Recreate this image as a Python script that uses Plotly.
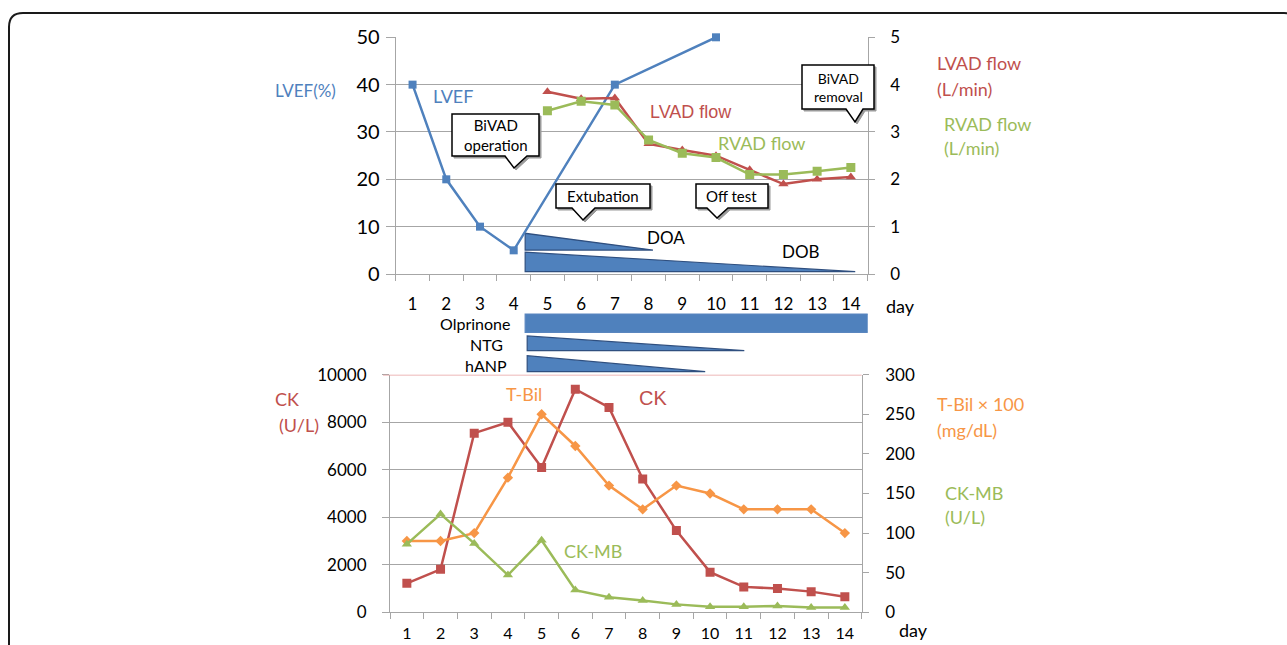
import plotly.graph_objects as go

# ---------------- data ----------------
days = list(range(1, 15))
day_labels = [str(d) for d in days]

lvef_days = [1, 2, 3, 4, 7, 10]
lvef = [40, 20, 10, 5, 40, 50]

vad_days = [5, 6, 7, 8, 9, 10, 11, 12, 13, 14]
lvad_flow = [3.85, 3.7, 3.72, 2.75, 2.62, 2.5, 2.2, 1.9, 2.0, 2.05]
rvad_flow = [3.45, 3.65, 3.57, 2.83, 2.55, 2.46, 2.1, 2.1, 2.17, 2.25]

ck = [1220, 1810, 7540, 8000, 6090, 9390, 8620, 5610, 3440, 1690, 1070, 1000, 870, 650]
tbil_x100 = [90, 90, 100, 170, 250, 210, 160, 130, 160, 150, 130, 130, 130, 100]
ck_mb = [86, 124, 87, 47, 91, 28, 19, 15, 10, 7, 7, 8, 6, 6]

# drug schedules (day axis units)
vaso_names = ["DOA", "DOB"]
vaso_start = [4.34, 4.34]
vaso_end = [8.13, 14.13]

drug_names = ["Olprinone", "NTG", "hANP"]
drug_start = [4.34, 4.40, 4.40]
drug_end = [14.52, 10.84, 9.68]

# events (callouts)
event_texts = ["BiVAD<br>operation", "Extubation", "Off test", "BiVAD<br>removal"]

# ---------------- styling ----------------
W, H = 1287, 645
BLUE = "#4F81BD"
RED = "#C0504D"
GREEN = "#9BBB59"
ORANGE = "#F79646"
GRID = "#A6A6A6"
FONT = "Lato"
ARIAL = "Liberation Sans"
DARKBLUE = "#2F4F7F"


def X(p):
    return p / W


def Y(p):
    return 1 - p / H


fig = go.Figure()

fig.add_trace(go.Scatter(x=lvef_days, y=lvef, mode="lines+markers", cliponaxis=False,
                         line=dict(color=BLUE, width=2.5),
                         marker=dict(symbol="square", size=8, color=BLUE),
                         xaxis="x", yaxis="y", showlegend=False))
fig.add_trace(go.Scatter(x=vad_days, y=lvad_flow, mode="lines+markers",
                         line=dict(color=RED, width=2.5),
                         marker=dict(symbol="triangle-up", size=9, color=RED),
                         xaxis="x", yaxis="y2", showlegend=False))
fig.add_trace(go.Scatter(x=vad_days, y=rvad_flow, mode="lines+markers",
                         line=dict(color=GREEN, width=2.5),
                         marker=dict(symbol="square", size=9, color=GREEN),
                         xaxis="x", yaxis="y2", showlegend=False))

fig.add_trace(go.Scatter(x=days, y=ck, mode="lines+markers",
                         line=dict(color=RED, width=2.5),
                         marker=dict(symbol="square", size=9, color=RED),
                         xaxis="x2", yaxis="y3", showlegend=False))
fig.add_trace(go.Scatter(x=days, y=tbil_x100, mode="lines+markers",
                         line=dict(color=ORANGE, width=2.5),
                         marker=dict(symbol="diamond", size=8, color=ORANGE),
                         xaxis="x2", yaxis="y4", showlegend=False))
fig.add_trace(go.Scatter(x=days, y=ck_mb, mode="lines+markers",
                         line=dict(color=GREEN, width=2.5),
                         marker=dict(symbol="triangle-up", size=9, color=GREEN),
                         xaxis="x2", yaxis="y4", showlegend=False))

tick_font = dict(family=FONT, size=17, color="black")
boundaries = [d - 0.5 for d in days] + [days[-1] + 0.5]


def xaxis_cfg(domain, anchor, standoff, fsize):
    return dict(domain=domain, anchor=anchor, range=[0.5, 14.5], automargin=False,
                tickmode="array", tickvals=days, ticktext=day_labels,
                ticks="outside", ticklen=6, tickcolor="rgba(0,0,0,0)",
                ticklabelstandoff=standoff,
                minor=dict(tickmode="array", tickvals=boundaries, ticks="outside",
                           ticklen=6, tickcolor=GRID, tickwidth=1, showgrid=False),
                showline=True, linecolor=GRID, linewidth=1.2,
                showgrid=False, zeroline=False,
                tickfont=dict(family=FONT, size=fsize, color="black"), fixedrange=True)


layout = dict(
    width=W, height=H, margin=dict(l=0, r=0, t=0, b=0, pad=0, autoexpand=False),
    paper_bgcolor="white", plot_bgcolor="white",
    font=dict(family=FONT),
    xaxis=xaxis_cfg([395.7 / W, 867.7 / W], "y", 8, 17),
    xaxis2=xaxis_cfg([390 / W, 861.7 / W], "y3", 0, 16),
    yaxis=dict(domain=[Y(274), Y(37.3)], anchor="x", range=[0, 50], dtick=10, automargin=False,
               showgrid=True, gridcolor=GRID, gridwidth=1.2,
               ticks="outside", ticklen=9, tickcolor=GRID, ticklabelstandoff=2,
               showline=True, linecolor=GRID, linewidth=1.2, zeroline=False,
               tickfont=dict(family=FONT, size=20, color="black")),
    yaxis2=dict(overlaying="y", side="right", anchor="x", range=[0, 5], dtick=1, automargin=False,
                showgrid=False, ticks="outside", ticklen=6, tickcolor=GRID,
                ticklabelstandoff=12,
                showline=True, linecolor=GRID, linewidth=1.2, zeroline=False,
                tickfont=tick_font),
    yaxis3=dict(domain=[Y(612.3), Y(374.7)], anchor="x2", range=[0, 10000], dtick=2000,
                tickformat="d", automargin=False,
                showgrid=True, gridcolor=GRID, gridwidth=1.2,
                ticks="outside", ticklen=7, tickcolor=GRID, ticklabelstandoff=12,
                showline=True, linecolor=GRID, linewidth=1.2, zeroline=False,
                tickfont=tick_font),
    yaxis4=dict(overlaying="y3", side="right", anchor="x2", range=[0, 300], dtick=50, automargin=False,
                showgrid=False, ticks="outside", ticklen=6, tickcolor=GRID,
                ticklabelstandoff=13,
                showline=True, linecolor=GRID, linewidth=1.2, zeroline=False,
                tickfont=tick_font),
)
fig.update_layout(**layout)

shapes = []

# outer rounded frame
shapes.append(dict(type="path", xref="paper", yref="paper",
                   path=f"M {X(9)},{Y(700)} L {X(9)},{Y(27)} Q {X(9)},{Y(13)} {X(23)},{Y(13)} "
                        f"L {X(1284)},{Y(13)} Q {X(1292)},{Y(13)} {X(1296)},{Y(20)}",
                   line=dict(color="#1A1A1A", width=2)))

# red top line in lower chart
shapes.append(dict(type="line", xref="paper", yref="y3", x0=X(383), x1=X(861.7), y0=10000, y1=10000,
                   line=dict(color="#E8A0A0", width=1.5)))

# vasoactive wedges inside the upper chart
vaso_y = [(5.05, 8.6), (0.5, 4.6)]
for (yb, yt), s, e in zip(vaso_y, vaso_start, vaso_end):
    shapes.append(dict(type="path", xref="x", yref="y", layer="between",
                       path=f"M {s},{yb} L {s},{yt} L {e},{yb} Z",
                       fillcolor=BLUE, line=dict(color=DARKBLUE, width=1.2)))

# drug bars below the upper chart
drug_py = [(314, 332.3), (336, 350.7), (355.7, 371.7)]
for i, ((pt, pb), s, e) in enumerate(zip(drug_py, drug_start, drug_end)):
    if i == 0:
        path = f"M {s},{Y(pb)} L {s},{Y(pt)} L {e},{Y(pt)} L {e},{Y(pb)} Z"
    else:
        path = f"M {s},{Y(pb)} L {s},{Y(pt)} L {e},{Y(pb)} Z"
    shapes.append(dict(type="path", xref="x", yref="paper",
                       path=path, fillcolor=BLUE, line=dict(color=DARKBLUE if i else "#5A86BF", width=1.2)))

# callouts (pixel geometry): left, top, right, bottom, notch_l, notch_r, tip_x, tip_y
callouts = [
    (452, 114, 539, 156, 505, 527, 514, 168),
    (556, 184, 650, 208, 572, 595, 583, 220),
    (696, 184, 768, 208, 707, 728, 717, 218),
    (802, 65, 874, 109, 846, 863, 855, 122),
]


def callout_path(l, t, r, b, nl, nr, tx, ty, dx=0, dy=0):
    pts = [(l, t), (r, t), (r, b), (nr, b), (tx, ty), (nl, b), (l, b)]
    return "M " + " L ".join(f"{X(px + dx)},{Y(py + dy)}" for px, py in pts) + " Z"


for c in callouts:
    shapes.append(dict(type="path", xref="paper", yref="paper",
                       path=callout_path(*c, dx=2, dy=2), fillcolor="#9A9A9A",
                       line=dict(color="#9A9A9A", width=1)))
    shapes.append(dict(type="path", xref="paper", yref="paper",
                       path=callout_path(*c), fillcolor="white",
                       line=dict(color="black", width=1.5)))

fig.update_layout(shapes=shapes)

anns = []


def ann(text, x, y, color="black", size=18, family=FONT, xanchor="left"):
    anns.append(dict(text=text, x=X(x), y=Y(y), xref="paper", yref="paper",
                     xanchor=xanchor, yanchor="middle", showarrow=False,
                     font=dict(color=color, size=size, family=family)))


# callout texts
for t, c in zip(event_texts, callouts):
    l, tp, r, b = c[:4]
    size = 14 if "removal" in t else 15
    anns.append(dict(text=t, x=X((l + r) / 2), y=Y((tp + b) / 2), xref="paper", yref="paper",
                     xanchor="center", yanchor="middle", showarrow=False,
                     font=dict(color="black", size=size, family=FONT)))

# upper chart labels
ann("LVEF(%)", 273, 91, BLUE, 17)
ann("LVEF", 431, 96, BLUE, 18)
ann("LVAD flow", 648, 112, RED, 18, ARIAL)
ann("RVAD flow", 716, 143, GREEN, 18)
ann(vaso_names[0], 645, 237, "black", 17)
ann(vaso_names[1], 780, 252, "black", 17)
ann("LVAD flow", 935, 63, RED, 18)
ann("(L/min)", 935, 89, RED, 18)
ann("RVAD flow", 942, 124, GREEN, 18)
ann("(L/min)", 942, 148, GREEN, 18)
ann("day", 884, 306, "black", 18)

# drug labels
ann(drug_names[0], 512, 323, "black", 16, xanchor="right")
ann(drug_names[1], 486, 345, "black", 16, xanchor="center")
ann(drug_names[2], 486, 365, "black", 16, xanchor="center")

# lower chart labels
ann("CK", 273, 399, RED, 18)
ann("(U/L)", 277, 425, RED, 18)
ann("T-Bil", 504, 394, ORANGE, 18)
ann("CK", 637, 398, RED, 20, ARIAL)
ann("CK-MB", 562, 551, GREEN, 18)
ann("T-Bil × 100", 935, 404, ORANGE, 18)
ann("(mg/dL)", 935, 430, ORANGE, 18)
ann("CK-MB", 943, 493, GREEN, 18)
ann("(U/L)", 943, 517, GREEN, 18)
ann("day", 897, 630, "black", 18)

fig.update_layout(annotations=anns)

fig.write_html("out.html", config={"displayModeBar": False},
               post_script="document.body.style.margin='0';document.body.style.overflow='hidden';")
